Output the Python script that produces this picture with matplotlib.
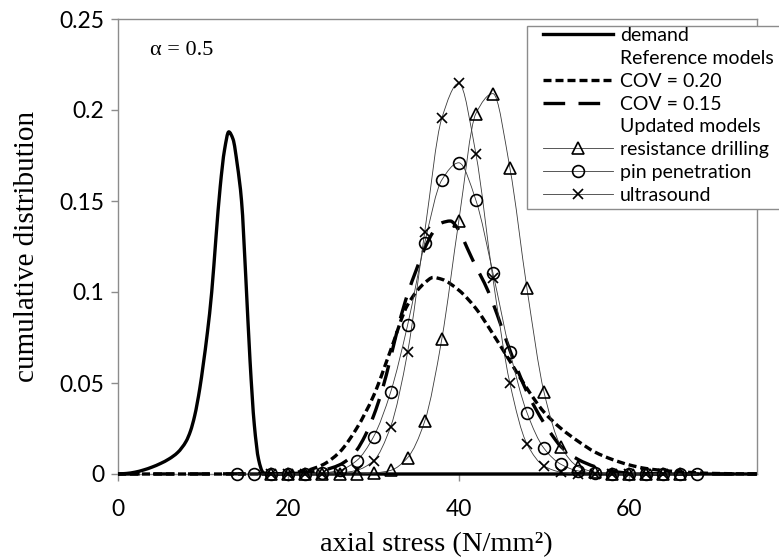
import numpy as np
import matplotlib
matplotlib.use("Agg")
import matplotlib.pyplot as plt
from matplotlib.path import Path
from matplotlib.patches import PathPatch, Rectangle
from matplotlib.lines import Line2D

# ---- data -------------------------------------------------------------
demand_x = [0, 1, 2, 3, 4, 5, 6, 7, 8, 8.5, 9, 9.6, 10, 10.5, 11, 11.5, 12,
            12.5, 13, 13.5, 14, 14.5, 15, 15.5, 16, 16.5, 17, 17.5, 75]
demand_y = [0, 0.0003, 0.001, 0.0022, 0.0038, 0.0058, 0.0083, 0.0118,
            0.018, 0.0235, 0.032, 0.047, 0.060, 0.078, 0.100, 0.130, 0.158,
            0.178, 0.188, 0.184, 0.170, 0.150, 0.108, 0.062, 0.027, 0.008,
            0.001, 0.0, 0.0]

cov20_x = [0, 18, 20, 22, 24, 26, 28, 30, 32, 34, 36, 37, 38, 40, 42, 44,
           46, 48, 50, 52, 54, 56, 58, 60, 62, 65, 70, 75]
cov20_y = [0, 0, 0.0005, 0.0018, 0.005, 0.012, 0.025, 0.043, 0.068, 0.093,
           0.105, 0.108, 0.107, 0.101, 0.091, 0.077, 0.062, 0.047, 0.034,
           0.025, 0.018, 0.012, 0.008, 0.005, 0.003, 0.0015, 0.0003, 0]

cov15_x = [0, 20, 22, 24, 26, 27, 28, 29, 30, 31, 32, 33, 34, 35, 36, 37,
           38, 39, 40, 41, 42, 43, 44, 45, 46, 47, 48, 49, 50, 51, 52, 54,
           56, 58, 60, 65, 75]
cov15_y = [0, 0.0002, 0.0008, 0.002, 0.005, 0.008, 0.013, 0.021, 0.032,
           0.046, 0.064, 0.083, 0.099, 0.112, 0.124, 0.133, 0.138, 0.139,
           0.134, 0.124, 0.114, 0.105, 0.094, 0.081, 0.068, 0.056, 0.045,
           0.036, 0.028, 0.021, 0.015, 0.008, 0.004, 0.0015, 0.0005, 0, 0]

drill_x = [18, 20, 22, 24, 26, 28, 30, 32, 34, 36, 38, 40, 42, 44, 46, 48,
           50, 52, 54, 56, 58, 60, 62, 64, 66]
drill_y = [0, 0, 0, 0, 0, 0, 0.0005, 0.002, 0.009, 0.029, 0.074, 0.139,
           0.198, 0.209, 0.168, 0.102, 0.045, 0.015, 0.004, 0.001, 0, 0,
           0, 0, 0]

pin_x = [14, 16, 18, 20, 22, 24, 26, 28, 30, 32, 34, 36, 38, 40, 42, 44,
         46, 48, 50, 52, 54, 56, 58, 60, 62, 64, 66, 68]
pin_y = [0, 0, 0, 0, 0, 0.0005, 0.002, 0.0073, 0.0205, 0.045, 0.082,
         0.127, 0.1615, 0.171, 0.1505, 0.1106, 0.0672, 0.0337, 0.0141,
         0.0053, 0.0017, 0.0005, 0, 0, 0, 0, 0, 0]

ultra_x = [18, 20, 22, 24, 26, 28, 30, 32, 34, 36, 38, 40, 42, 44, 46, 48,
           50, 52, 54, 56, 58, 60, 62, 64]
ultra_y = [0, 0, 0, 0, 0.0005, 0.002, 0.0073, 0.026, 0.0672, 0.133,
           0.1954, 0.2147, 0.176, 0.1075, 0.0498, 0.0165, 0.0044, 0.001,
           0, 0, 0, 0, 0, 0]

x_ticks = [0, 20, 40, 60]
y_ticks = [0, 0.05, 0.1, 0.15, 0.2, 0.25]
y_tick_labels = ["0", "0.05", "0.1", "0.15", "0.2", "0.25"]

legend_labels = ["demand", "Reference models", "COV = 0.20", "COV = 0.15",
                 "Updated models", "resistance drilling", "pin penetration",
                 "ultrasound"]


def smooth_path(x, y):
    """Piecewise cubic Bezier path through the points (monotone slopes)."""
    x = np.asarray(x, float)
    y = np.asarray(y, float)
    h = np.diff(x)
    d = np.diff(y) / h
    n = len(x)
    m = np.zeros(n)
    for i in range(1, n - 1):
        if d[i - 1] * d[i] > 0:
            w1 = 2 * h[i] + h[i - 1]
            w2 = h[i] + 2 * h[i - 1]
            m[i] = (w1 + w2) / (w1 / d[i - 1] + w2 / d[i])
    m[0] = d[0]
    m[-1] = d[-1]
    verts = [(x[0], y[0])]
    codes = [Path.MOVETO]
    for i in range(n - 1):
        verts += [(x[i] + h[i] / 3, y[i] + m[i] * h[i] / 3),
                  (x[i + 1] - h[i] / 3, y[i + 1] - m[i + 1] * h[i] / 3),
                  (x[i + 1], y[i + 1])]
        codes += [Path.CURVE4] * 3
    return Path(verts, codes)


W, H = 779, 560
fig = plt.figure(figsize=(W / 100, H / 100), dpi=100)
ax = fig.add_axes([118 / W, 1 - 474 / H, (757 - 118) / W, (474 - 19) / H])

tick_font = "Lato"
serif_font = "Liberation Serif"
grey = "#8c8c8c"

thick = 2.4
short_dash = (2.4, 1.2)
long_dash = (6.5, 4.0)
thin_col = "#3a3a3a"

# smooth reference curves
for xs, ys, dash in [(demand_x, demand_y, None),
                     (cov20_x, cov20_y, short_dash),
                     (cov15_x, cov15_y, long_dash)]:
    patch = PathPatch(smooth_path(xs, ys), fill=False, edgecolor="black",
                      linewidth=thick, capstyle="butt", joinstyle="round",
                      zorder=3, clip_on=False)
    if dash is not None:
        patch.set_linestyle((0, dash))
    ax.add_patch(patch)

# updated models: thin smoothed lines with open markers
marker_kw = dict(color="black", markerfacecolor="none", linestyle="none",
                 markeredgewidth=1.2, zorder=5, clip_on=False)
for xs, ys, mk, ms in [(drill_x, drill_y, "^", 8.5),
                       (pin_x, pin_y, "o", 8.5),
                       (ultra_x, ultra_y, "x", 7.5)]:
    ax.add_patch(PathPatch(smooth_path(xs, ys), fill=False,
                           edgecolor=thin_col, linewidth=0.6, zorder=4,
                           clip_on=False))
    ax.plot(xs, ys, marker=mk, markersize=ms, **marker_kw)

ax.set_xlim(0, 75)
ax.set_ylim(0, 0.25)
ax.set_xticks(x_ticks)
ax.set_xticklabels([str(t) for t in x_ticks])
ax.set_yticks(y_ticks)
ax.set_yticklabels(y_tick_labels)

for s in ax.spines.values():
    s.set_color(grey)
    s.set_linewidth(1.0)
ax.tick_params(axis="both", direction="out", length=5, width=1.0,
               color=grey, labelsize=16.5, labelcolor="black")
ax.tick_params(axis="x", pad=13)
ax.tick_params(axis="y", pad=5)
for lab in ax.get_xticklabels() + ax.get_yticklabels():
    lab.set_family(tick_font)

ax.set_xlabel("axial stress (N/mm²)", family=serif_font, fontsize=20.5,
              va="center")
ax.set_ylabel("cumulative distribution", family=serif_font, fontsize=21,
              va="center")
ax.xaxis.set_label_coords(0.498, -0.155)
ax.yaxis.set_label_coords(-0.1424, 0.5)

ax.text(0.05, 0.93, "α = 0.5", transform=ax.transAxes, family=serif_font,
        fontsize=16, va="center", ha="left")

# legend: frame drawn as a rectangle running off the right edge
fig.patches.append(Rectangle((527 / W, 1 - 209 / H), (W + 20 - 527) / W,
                             (209 - 26) / H, transform=fig.transFigure,
                             facecolor="white", edgecolor=grey,
                             linewidth=1.0, zorder=6, clip_on=False))

blank = Line2D([], [], color="none")
handles = [
    Line2D([], [], color="black", linewidth=thick),
    blank,
    Line2D([], [], color="black", linewidth=thick, dashes=short_dash),
    Line2D([], [], color="black", linewidth=thick, dashes=long_dash),
    blank,
    Line2D([], [], color=thin_col, linewidth=0.6, marker="^", markersize=8.5,
           markerfacecolor="none", markeredgecolor="black",
           markeredgewidth=1.2),
    Line2D([], [], color=thin_col, linewidth=0.6, marker="o", markersize=8.5,
           markerfacecolor="none", markeredgecolor="black",
           markeredgewidth=1.2),
    Line2D([], [], color=thin_col, linewidth=0.6, marker="x", markersize=7.5,
           markeredgecolor="black", markeredgewidth=1.2),
]
leg = fig.legend(handles, legend_labels, loc="upper left",
                 bbox_to_anchor=(543 / W, 1 - 27 / H),
                 bbox_transform=fig.transFigure, borderaxespad=0,
                 frameon=False, prop={"family": tick_font, "size": 14},
                 handlelength=3.6, handletextpad=0.35, labelspacing=0.30,
                 borderpad=0, numpoints=1)
leg.set_zorder(7)

fig.savefig("out.png", dpi=100)
